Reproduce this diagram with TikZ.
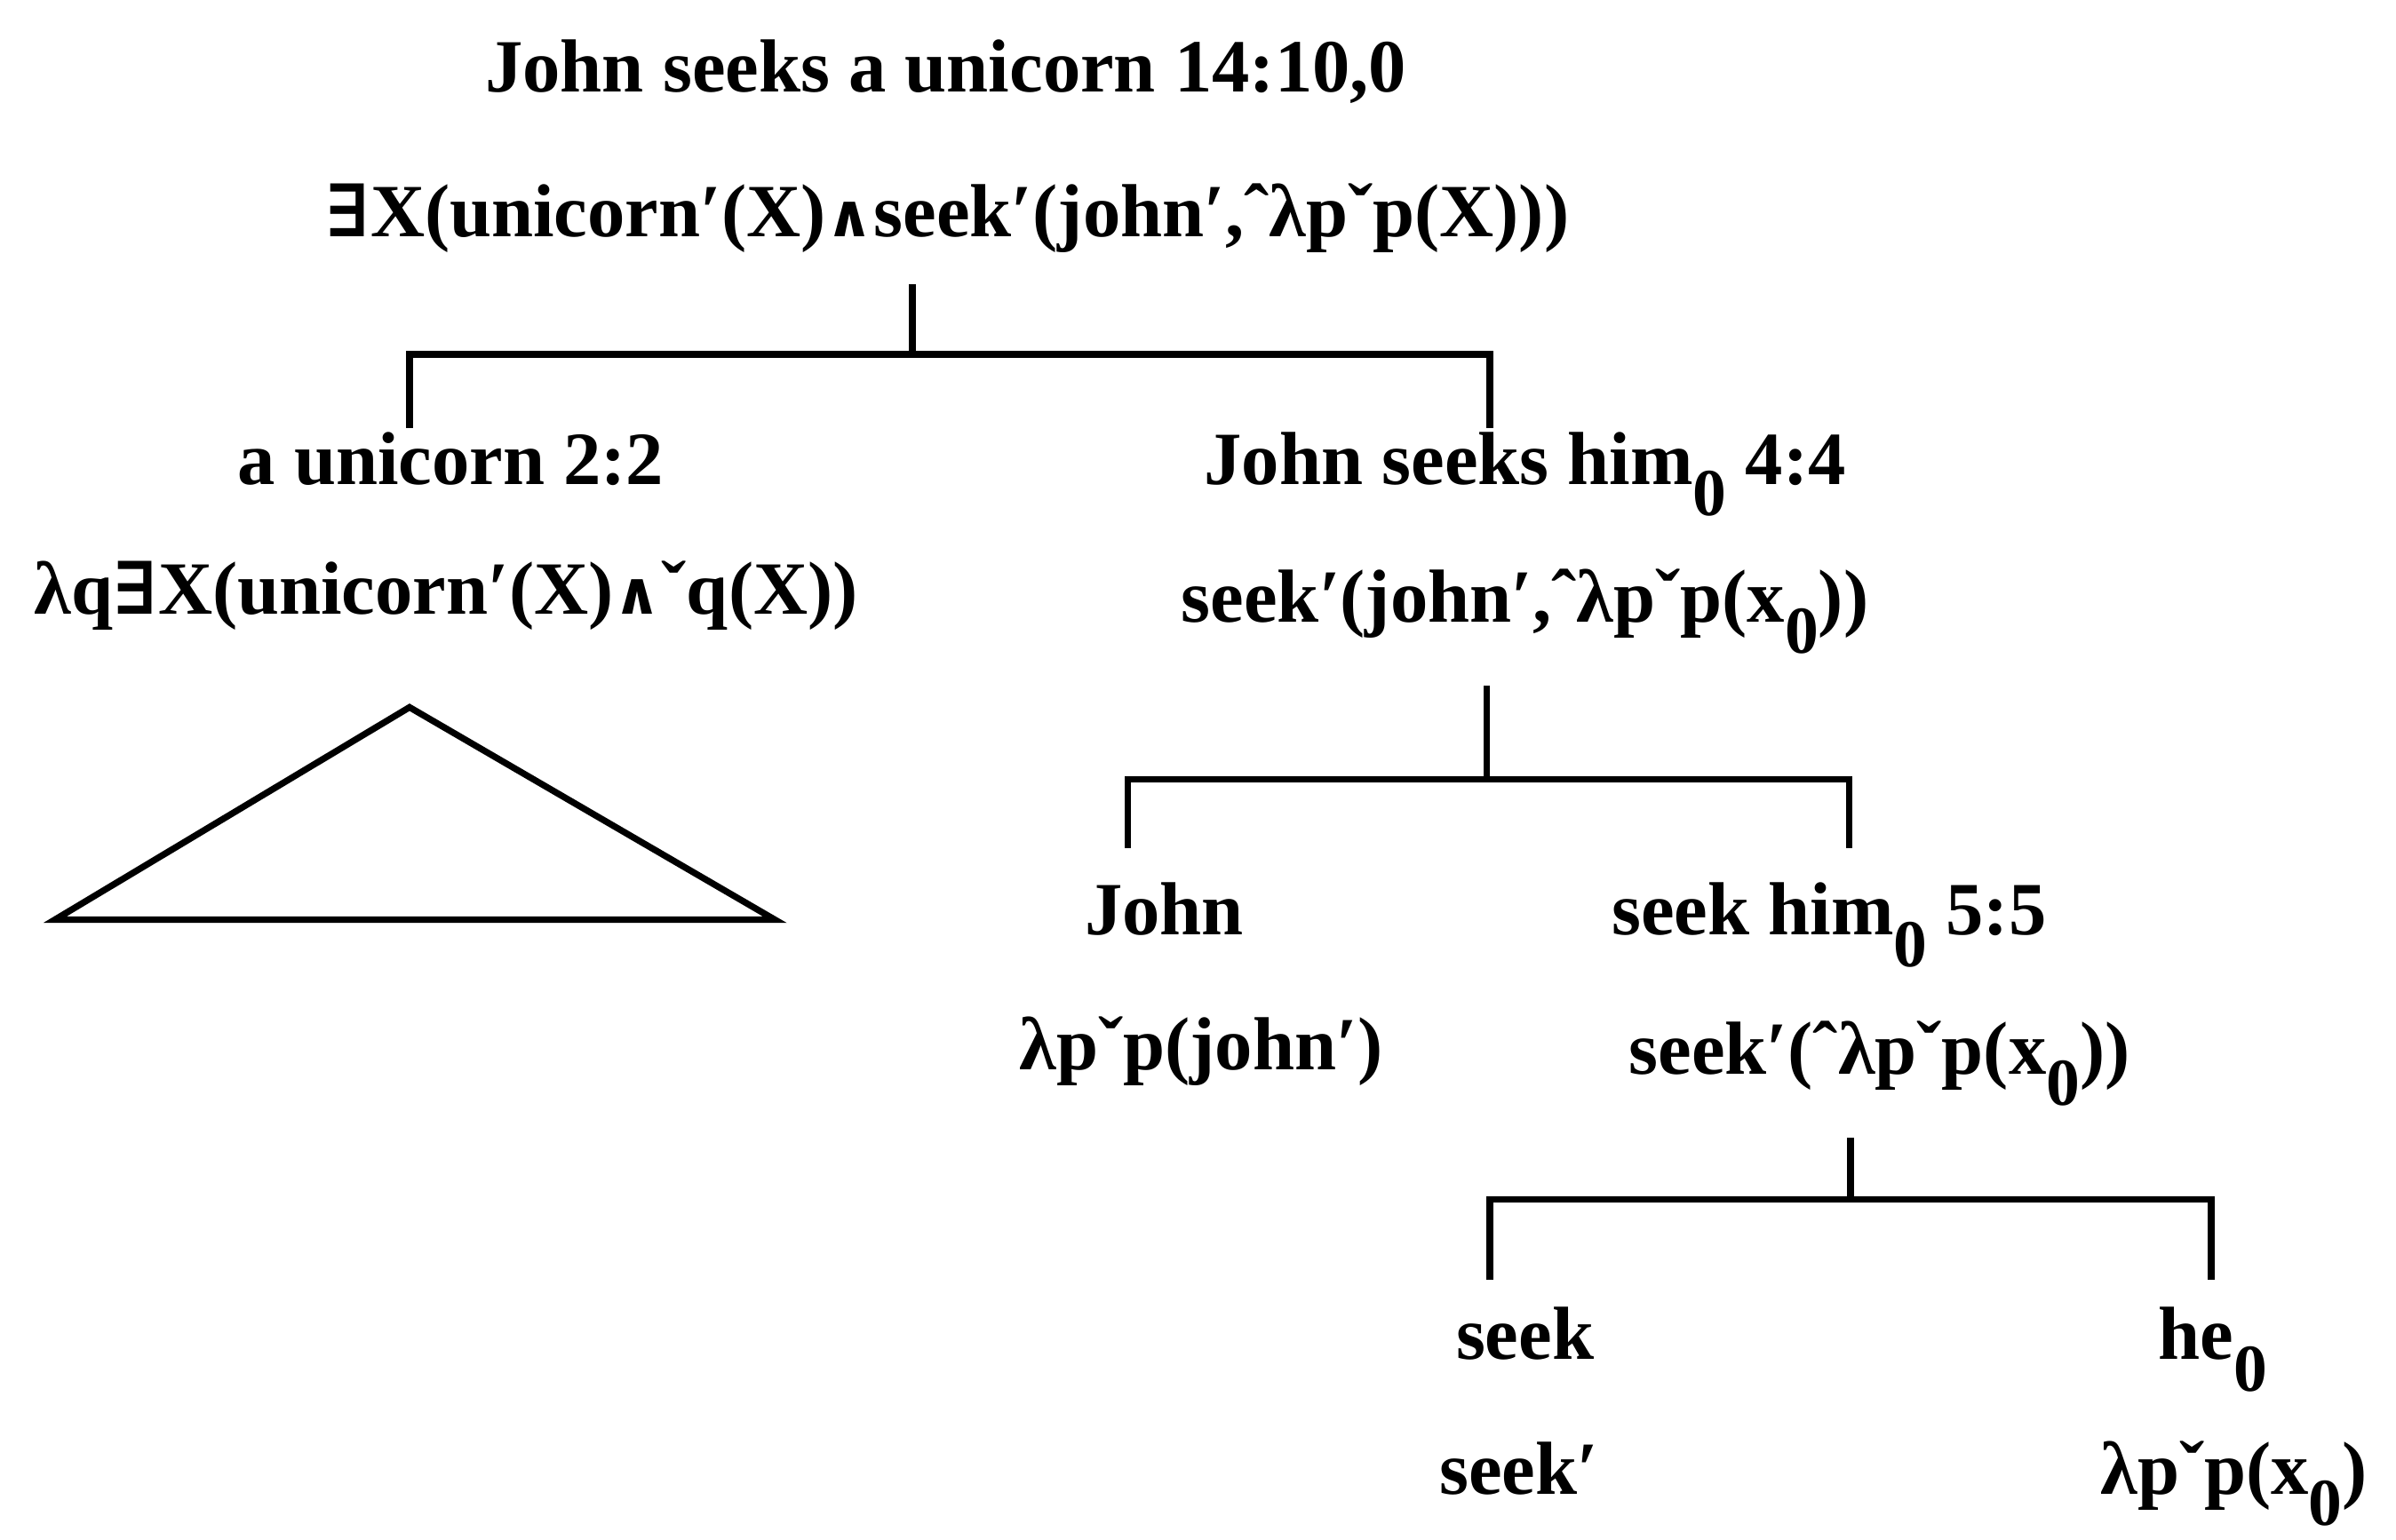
\documentclass[tikz,border=0pt]{standalone}
\usepackage{fontspec}
\setmainfont{Liberation Serif}
\newfontfamily\dvsfont{DejaVu Serif}
\newcommand{\exq}{{\dvsfont\bfseries\fontsize{13.5}{13.5}\selectfont ∃}}
\newcommand{\andq}{{\dvsfont\bfseries\fontsize{11}{11}\selectfont ∧}}
\newcommand{\subz}[1]{\raisebox{-0.42em}{\fontsize{12.5}{12.5}\selectfont #1}}

\begin{document}
\begin{tikzpicture}[font=\fontsize{14}{16}\selectfont\bfseries,
  lbl/.style={anchor=base, inner sep=0.2cm},
  branch/.style={line width=1.2pt}]
  \useasboundingbox (0,0) rectangle (15.68,-10.08);
  % root
  \node[lbl] (root) at (6.19,-0.60) {John seeks a unicorn 14:10,0};
  \node[lbl] (rootsem) at (6.20,-1.55) {\exq X(unicorn′(X)\andq seek′(john′,ˆλpˇp(X)))};
  % a unicorn
  \node[lbl] (uni) at (2.95,-3.17) {a unicorn 2:2};
  \node[lbl] (unisem) at (2.92,-4.02) {λq\exq X(unicorn′(X)\andq ˇq(X))};
  % John seeks him_0
  \node[lbl] (jsh) at (9.98,-3.17) {John seeks him\subz{0} 4:4};
  \node[lbl] (jshsem) at (9.98,-4.07) {seek′(john′,ˆλpˇp(x\subz{0}))};
  \node[lbl] (john) at (7.62,-6.12) {John};
  \node[lbl] (johnsem) at (7.86,-7.00) {λpˇp(john′)};
  \node[lbl] (sh) at (11.97,-6.12) {seek him\subz{0} 5:5};
  \node[lbl] (shsem) at (12.30,-7.03) {seek′(ˆλpˇp(x\subz{0}))};
  \node[lbl] (seek) at (9.98,-8.90) {seek};
  \node[lbl] (seeksem) at (9.94,-9.78) {seek′};
  \node[lbl] (he) at (14.48,-8.90) {he\subz{0}};
  \node[lbl] (hesem) at (14.62,-9.78) {λpˇp(x\subz{0})};

  % branch points and ends
  \coordinate (j1) at (5.97,-2.32); \coordinate (l1) at (2.68,-2.80); \coordinate (r1) at (9.75,-2.80);
  \coordinate (j2) at (9.73,-5.10); \coordinate (l2) at (7.38,-5.55); \coordinate (r2) at (12.10,-5.55);
  \coordinate (j3) at (12.11,-7.85); \coordinate (l3) at (9.75,-8.38); \coordinate (r3) at (14.47,-8.38);
  \foreach \p/\k in {rootsem/1, jshsem/2, shsem/3}
    \draw[branch] (\p.south -| j\k) -- (j\k) (l\k) |- (j\k) -| (r\k);
  % unexpanded subtree
  \draw[branch] (2.68,-4.63) -- (0.36,-6.02) -- (5.07,-6.02) -- cycle;
\end{tikzpicture}
\end{document}
